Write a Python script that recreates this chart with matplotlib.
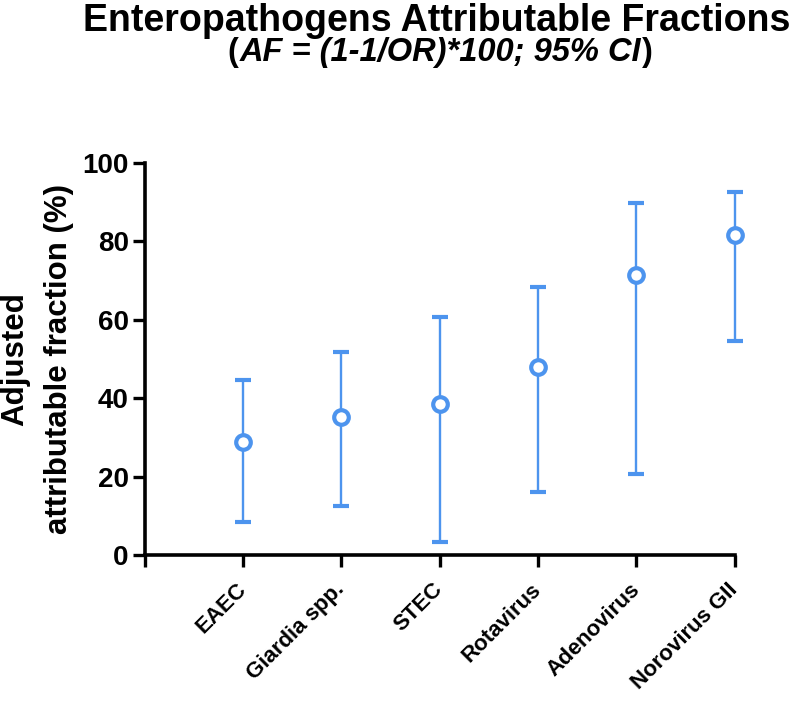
import matplotlib
matplotlib.use("Agg")
import matplotlib.pyplot as plt
from matplotlib.offsetbox import TextArea, HPacker, AnchoredOffsetbox
import numpy as np

plt.rcParams['font.family'] = ['Liberation Sans', 'DejaVu Sans']

# DATA__________________________________________________________________________
pathogens = ['EAEC', 'Giardia spp.', 'STEC', 'Rotavirus', 'Adenovirus', 'Norovirus GII']
af = [28.9, 35.1, 38.4, 48.0, 71.4, 81.6]
ci_low = [8.5, 12.5, 3.4, 16.1, 20.7, 54.7]
ci_high = [44.6, 51.7, 60.8, 68.3, 89.7, 92.7]
y_ticks = [0, 20, 40, 60, 80, 100]

blue = '#4d94ee'

fig = plt.figure(figsize=(8, 7.03), dpi=100)
ax = fig.add_axes([0.181, 0.2105, 0.7375, 0.5576])

xpos = np.arange(1, len(pathogens) + 1)
af = np.array(af)
yerr = [af - np.array(ci_low), np.array(ci_high) - af]
ax.errorbar(xpos, af, yerr=yerr, fmt='o', color=blue, ecolor=blue, elinewidth=1.7,
            capsize=6, capthick=1.5, markersize=10.5, markerfacecolor='white',
            markeredgewidth=3, markeredgecolor=blue, clip_on=False, zorder=3)

ax.set_xlim(0, len(pathogens))
ax.set_ylim(0, 100)

ax.set_xticks(np.arange(len(pathogens) + 1))
ax.set_xticklabels([''] + pathogens, rotation=45, ha='right', va='center',
                   rotation_mode='anchor', fontsize=16, fontweight='bold')

ax.set_yticks(y_ticks)
ax.set_yticklabels([str(v) for v in y_ticks], fontsize=20, fontweight='bold')

for s in ['top', 'right']:
    ax.spines[s].set_visible(False)
for s in ['left', 'bottom']:
    ax.spines[s].set_linewidth(2.6)
ax.tick_params(axis='both', width=2.4, length=8.5, direction='out')
ax.tick_params(axis='x', pad=14)
ax.tick_params(axis='y', pad=3)

ax.set_ylabel('Adjusted\nattributable fraction (%)', fontsize=22.5, fontweight='bold',
              linespacing=1.6, labelpad=6)

fig.text(0.546, 0.956, 'Enteropathogens Attributable Fractions', ha='center', va='baseline',
         fontsize=27, fontweight='bold')

parts = [TextArea('(', textprops=dict(fontsize=23.5, fontweight='bold')),
         TextArea('AF = (1-1/OR)*100; 95% CI', textprops=dict(fontsize=23.5, fontweight='bold', style='italic')),
         TextArea(')', textprops=dict(fontsize=23.5, fontweight='bold'))]
box = HPacker(children=parts, pad=0, sep=1, align='baseline')
anchored = AnchoredOffsetbox(loc='center', child=box, frameon=False,
                             bbox_to_anchor=(0.55, 0.926), bbox_transform=fig.transFigure,
                             borderpad=0, pad=0)
fig.add_artist(anchored)

fig.savefig('out.png', dpi=100)
